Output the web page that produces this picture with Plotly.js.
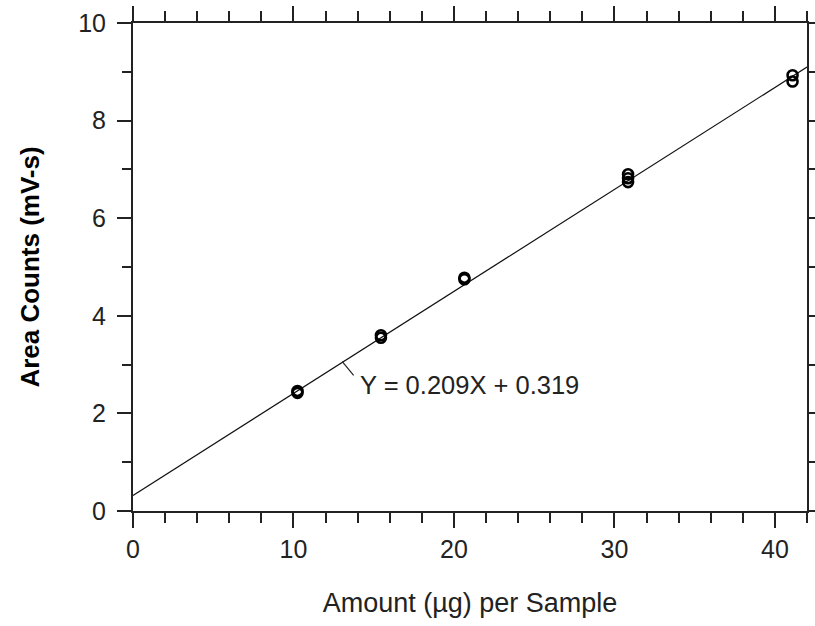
<!DOCTYPE html>
<html>
<head>
<meta charset="utf-8">
<script src="https://cdn.plot.ly/plotly-3.0.1.min.js"></script>
<style>html,body{margin:0;padding:0;background:#fff;}#chart{width:815px;height:626px;}</style>
</head>
<body>
<div id="chart"></div>
<script>
// Data
const amounts = [10.25, 10.25, 15.45, 15.45, 20.65, 20.65, 30.85, 30.85, 30.85, 41.1, 41.1];
const areaCounts = [2.42, 2.46, 3.55, 3.6, 4.78, 4.75, 6.74, 6.82, 6.9, 8.93, 8.8];
const fitX = [0, 42];
const fitY = [0.319, 9.097];
const equationLabel = "Y = 0.209X + 0.319";
const xTitle = "Amount (µg) per Sample";
const yTitle = "Area Counts (mV-s)";

const ink = "#222";
const fam = "Liberation Sans, Arial, sans-serif";
const tickFont = {family: fam, size: 25, color: ink};

const traces = [
  {x: fitX, y: fitY, mode: "lines", line: {color: "#111", width: 1.2}, hoverinfo: "skip", showlegend: false},
  {x: amounts, y: areaCounts, mode: "markers", showlegend: false,
   marker: {symbol: "circle-open", size: 10, line: {color: "#000", width: 2.6}, color: "#000"}}
];

const axisCommon = {
  showgrid: false, zeroline: false, showline: true, linecolor: ink, linewidth: 2,
  ticks: "outside", tickcolor: ink, tickwidth: 2, mirror: "allticks",
  tickfont: tickFont, fixedrange: true
};

const layout = {
  width: 815, height: 626,
  margin: {l: 133, r: 8, t: 23, b: 115},
  paper_bgcolor: "#fff", plot_bgcolor: "#fff",
  font: tickFont,
  xaxis: Object.assign({}, axisCommon, {
    range: [0, 42], dtick: 10, tick0: 0, ticklen: 15,
    minor: {dtick: 2, tick0: 0, ticks: "outside", ticklen: 10, tickwidth: 2, tickcolor: ink},
    title: {text: xTitle, font: {family: fam, size: 27, color: ink}, standoff: 31}
  }),
  yaxis: Object.assign({}, axisCommon, {
    range: [0, 10], dtick: 2, tick0: 0, ticklen: 14, ticklabelstandoff: 6,
    minor: {dtick: 1, tick0: 0, ticks: "outside", ticklen: 9, tickwidth: 2, tickcolor: ink},
    title: {text: "<b>" + yTitle + "</b>", font: {family: fam, size: 26, color: "#000"}, standoff: 31}
  }),
  shapes: [
    {type: "line", xref: "x", yref: "y", x0: 13.04, y0: 3.06, x1: 13.75, y1: 2.78, line: {color: ink, width: 1.2}}
  ],
  annotations: [
    {xref: "x", yref: "y", x: 14.0, y: 2.58, xanchor: "left", yanchor: "middle", showarrow: false,
     text: equationLabel, font: {family: fam, size: 25.5, color: ink}}
  ]
};

Plotly.newPlot("chart", traces, layout, {displayModeBar: false, staticPlot: true});
</script>
</body>
</html>
